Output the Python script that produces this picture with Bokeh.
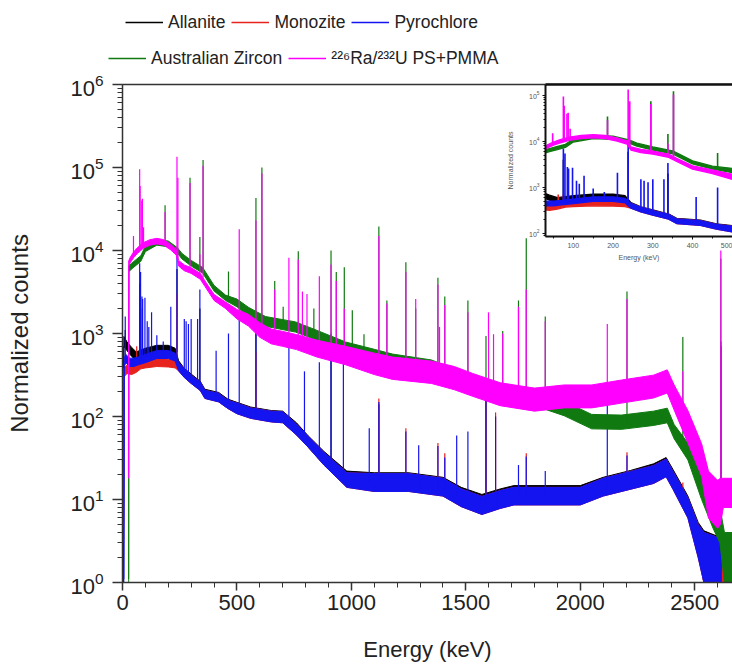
from bokeh.plotting import figure
from bokeh.models import (ColumnDataSource, Legend, LegendItem, LinearAxis, FixedTicker,
                          SingleIntervalTicker, LogTicker)
from bokeh.embed import file_html
from bokeh.resources import INLINE

# ---------------- data ----------------
# continuum bands: energy (keV), lower edge, upper edge of the noisy trace
alla_E  = [4, 6, 20, 40, 60, 100, 150, 200, 230, 245, 270, 300, 340, 360, 420, 460, 500, 560, 650, 700, 760, 810, 880, 980, 1100, 1250, 1400, 1480, 1570, 1650, 1710, 1850, 2000, 2100, 2220, 2320, 2375, 2405, 2470, 2515, 2540, 2600, 2618]
alla_lo = [1, 700, 620, 530, 470, 540, 585, 585, 540, 375, 305, 260, 210, 170, 155, 130, 111, 97, 88, 86, 62, 44, 27, 15, 13, 13, 11.5, 8.6, 7, 8.2, 9, 9, 9, 11.3, 13.7, 16.4, 19.5, 14, 6.5, 2.2, 1, 1, 1]
alla_hi = [1.1, 920, 790, 680, 600, 665, 720, 720, 665, 470, 380, 325, 265, 213, 195, 162, 148, 130, 118, 116, 84, 59, 38, 22, 21, 21, 18.5, 14, 11.5, 13.4, 14.7, 14.7, 14.7, 18.5, 22.4, 26.9, 32, 23, 11, 5.3, 4.2, 3.6, 3.6]

mona_E  = [5, 6, 20, 40, 60, 80, 100, 150, 200, 230, 245, 270, 300, 340, 360, 420, 460, 500, 560, 650, 700, 760, 810, 880, 980, 1100, 1250, 1400, 1480, 1570, 1650, 1710, 1850, 2000, 2100, 2220, 2320, 2375, 2405, 2470, 2515, 2540, 2600, 2625, 2640]
mona_lo = [3, 300, 330, 320, 340, 375, 385, 400, 395, 385, 355, 295, 250, 205, 165, 150, 125, 108, 95, 86, 84, 60, 43, 26, 14, 12.5, 12.5, 11, 8.2, 6.6, 7.8, 8.6, 8.6, 8.6, 11, 13.3, 15.6, 18.8, 13.3, 6, 2, 1, 1, 1, 1]
mona_hi = [5, 385, 415, 405, 425, 470, 480, 505, 490, 480, 450, 370, 315, 260, 207, 190, 157, 145, 127, 116, 114, 81, 58, 37, 21, 20.5, 20.5, 18, 13.4, 10.9, 12.8, 14, 14, 14, 18, 21.8, 25.6, 30.7, 21.8, 10.5, 5, 4, 3.5, 4, 3]

pyro_E  = [6, 8, 15, 30, 50, 70, 100, 150, 200, 230, 245, 270, 300, 340, 360, 420, 460, 500, 560, 650, 700, 760, 810, 880, 980, 1100, 1250, 1400, 1480, 1570, 1650, 1710, 1850, 2000, 2100, 2220, 2320, 2375, 2405, 2470, 2515, 2540, 2600, 2618]
pyro_lo = [1, 400, 445, 400, 400, 420, 445, 500, 500, 465, 355, 295, 250, 205, 165, 150, 125, 108, 95, 86, 84, 60, 43, 26, 14, 12.5, 12.5, 11, 8.2, 6.6, 7.8, 8.6, 8.6, 8.6, 11, 13.3, 15.6, 18.8, 13.3, 6, 2, 1, 1, 1]
pyro_hi = [1.1, 510, 560, 505, 505, 525, 560, 625, 625, 580, 450, 370, 315, 260, 207, 190, 157, 145, 127, 116, 114, 81, 58, 37, 21, 20.5, 20.5, 18, 13.4, 10.9, 12.8, 14, 14, 14, 18, 21.8, 25.6, 30.7, 21.8, 10.5, 5, 4, 3.5, 3.5]

zirc_E  = [27, 28, 40, 60, 80, 100, 150, 200, 240, 260, 300, 350, 400, 450, 500, 550, 625, 756, 850, 975, 1100, 1180, 1350, 1500, 1650, 1800, 1930, 2050, 2180, 2320, 2380, 2410, 2470, 2530, 2580, 2610, 2630, 2665]
zirc_lo = [1, 5550, 6000, 6650, 7400, 9700, 11600, 11100, 9250, 7900, 6500, 5350, 3250, 2500, 2100, 1570, 1220, 1040, 830, 600, 490, 425, 365, 240, 165, 135, 102, 71, 70, 78, 84, 54, 30, 10, 4.5, 3, 1, 1]
zirc_hi = [1.1, 6500, 7000, 7800, 8650, 11300, 13500, 13000, 10800, 9200, 7600, 6250, 3800, 2900, 2600, 2070, 1600, 1380, 1090, 790, 645, 565, 480, 325, 245, 200, 152, 106, 104, 116, 126, 80, 48, 19, 11, 8, 4, 4]

raum_E  = [26, 27, 35, 50, 65, 90, 120, 150, 180, 210, 235, 245, 270, 300, 340, 360, 400, 450, 500, 550, 600, 650, 700, 760, 850, 975, 1100, 1180, 1350, 1450, 1530, 1650, 1800, 1930, 2050, 2180, 2320, 2380, 2410, 2470, 2530, 2560, 2600, 2612, 2625, 2665]
raum_lo = [18, 6500, 7200, 8300, 9200, 10600, 11600, 12000, 11600, 10200, 8800, 6500, 5700, 5300, 4500, 3700, 2500, 2000, 1500, 1230, 900, 750, 700, 640, 520, 420, 320, 280, 250, 210, 175, 135, 116, 127, 127, 145, 167, 192, 120, 48, 19, 6, 4.5, 5, 8, 8]
raum_hi = [22, 7500, 8400, 9700, 10800, 12400, 13500, 14000, 13500, 11900, 10300, 7600, 6700, 6200, 5300, 4300, 2950, 2400, 1950, 1700, 1350, 1130, 1060, 970, 830, 700, 580, 520, 465, 400, 330, 255, 220, 240, 240, 275, 315, 365, 240, 118, 47, 22, 17, 18, 18, 18]

# photopeaks: energy (keV), continuum under the peak, peak top
alla_pE = [12, 75, 87, 238, 338, 583, 911, 1120, 1588, 2614]
alla_pB = [700, 560, 580, 600, 235, 112, 27, 16.5, 9, 1]
alla_pT = [1100, 4000, 2000, 6000, 2000, 1000, 700, 140, 170, 700]

mona_pE = [62, 75, 238, 583, 1120, 1238, 1378, 1408, 1588, 1630, 1764, 2204, 2448]
mona_pB = [380, 400, 430, 108, 16, 16, 14, 13, 8.8, 9.5, 11, 16.5, 8]
mona_pT = [700, 700, 3000, 600, 165, 72, 48, 36, 195, 112, 36, 37, 16]

pyro_pE = [12, 75, 79, 85, 88, 98, 108, 115, 127, 150, 178, 211, 238, 270, 278, 288, 300, 328, 338, 409, 463, 510, 583, 727, 795, 860, 911, 965, 1078, 1120, 1238, 1294, 1378, 1408, 1460, 1509, 1588, 1630, 1730, 1764, 1847, 2118, 2204, 2614]
pyro_pB = [500, 470, 480, 490, 490, 500, 510, 520, 530, 560, 560, 550, 500, 330, 320, 300, 280, 245, 235, 172, 140, 122, 108, 99, 55, 36, 26, 19, 16, 16, 16, 15, 14, 13, 11, 10, 8.8, 9.5, 11, 11, 11, 14, 16.5, 1]
pyro_pT = [1600, 7000, 5500, 2800, 2600, 2700, 1400, 1200, 1800, 950, 800, 2100, 9500, 1500, 1400, 1300, 1500, 1500, 3400, 620, 1000, 1800, 1500, 900, 350, 450, 1000, 600, 72, 150, 66, 45, 44, 32, 59, 66, 180, 100, 26, 33, 22, 150, 34, 800]

zirc_pE = [186, 295, 338, 352, 463, 583, 609, 665, 702, 768, 836, 911, 934, 969, 1004, 1055, 1120, 1155, 1238, 1281, 1378, 1408, 1509, 1588, 1661, 1730, 1764, 1847, 2204, 2448, 2614]
zirc_pB = [12200, 7000, 6000, 5700, 2600, 1550, 1450, 1350, 1270, 1180, 990, 820, 780, 700, 660, 600, 545, 510, 460, 445, 400, 385, 275, 235, 198, 180, 175, 155, 85, 55, 5]
zirc_pT = [35000, 75000, 14500, 123000, 5600, 43000, 100000, 4300, 2100, 9800, 2000, 10000, 5500, 6300, 1900, 980, 19500, 2500, 7200, 2000, 4700, 2800, 2500, 930, 1070, 2500, 14000, 1600, 3200, 910, 8000]

raum_pE = [48, 75, 77, 84, 87, 92, 186, 238, 242, 295, 338, 352, 510, 583, 609, 665, 727, 768, 786, 806, 860, 911, 934, 969, 1120, 1155, 1238, 1281, 1378, 1385, 1408, 1509, 1599, 1621, 1661, 1730, 1764, 1847, 2118, 2204, 2448, 2614]
raum_pB = [9000, 10500, 10500, 11000, 11000, 11500, 12500, 9500, 8000, 5800, 5000, 4700, 1650, 1250, 1100, 900, 860, 800, 780, 740, 650, 600, 580, 550, 420, 400, 370, 360, 330, 325, 320, 255, 210, 200, 190, 175, 170, 165, 185, 200, 110, 10]
raum_pT = [15000, 95000, 60000, 40000, 42000, 19000, 29000, 135000, 75000, 65000, 9000, 105000, 18000, 23000, 85000, 3400, 8200, 7800, 3200, 3000, 4900, 6800, 4300, 2000, 15000, 2300, 5500, 2600, 3900, 1200, 2200, 1800, 1800, 980, 1000, 2100, 3400, 1400, 1300, 2600, 350, 10000]

labels = ["Allanite", "Monozite", "Pyrochlore", "Australian Zircon", "\u00b2\u00b2\u2076Ra/\u00b2\u00b3\u00b2U PS+PMMA"]
colors = ["#000000", "#e8231e", "#1414f0", "#107a10", "#ff00ff"]

bands = [(alla_E, alla_lo, alla_hi), (mona_E, mona_lo, mona_hi), (pyro_E, pyro_lo, pyro_hi),
         (zirc_E, zirc_lo, zirc_hi), (raum_E, raum_lo, raum_hi)]
peaks = [(alla_pE, alla_pB, alla_pT), (mona_pE, mona_pB, mona_pT), (pyro_pE, pyro_pB, pyro_pT),
         (zirc_pE, zirc_pB, zirc_pT), (raum_pE, raum_pB, raum_pT)]

band_src = [ColumnDataSource(dict(E=e, lo=l, hi=h)) for e, l, h in bands]
peak_src = [ColumnDataSource(dict(E=e, base=b, top=t)) for e, b, t in peaks]

FONT = "Liberation Sans"
TXT = "#222222"


def draw(fig, lw_edge, lw_peak):
    for bs, ps, c in zip(band_src, peak_src, colors):
        fig.varea(x="E", y1="lo", y2="hi", source=bs, fill_color=c)
        fig.line(x="E", y="hi", source=bs, line_color=c, line_width=lw_edge)
        fig.line(x="E", y="lo", source=bs, line_color=c, line_width=lw_edge)
        fig.segment(x0="E", y0="base", x1="E", y1="top", source=ps, line_color=c, line_width=lw_peak)


def border_axis(color, width, tick_out):
    return LinearAxis(ticker=FixedTicker(ticks=[]), major_tick_out=tick_out, major_tick_in=0,
                      minor_tick_out=0, minor_tick_in=0, major_label_standoff=0,
                      major_tick_line_color=None, minor_tick_line_color=None,
                      axis_line_color=color, axis_line_width=width)


# ---------------- main figure ----------------
p = figure(width=732, height=666, x_range=(0, 2665), y_range=(1, 1e6), y_axis_type="log",
           output_backend="svg", toolbar_location=None,
           min_border_left=122, min_border_right=0, min_border_top=84, min_border_bottom=84,
           background_fill_color="white", border_fill_color="white")
p.outline_line_color = None
p.grid.visible = False
draw(p, 1.0, 1.2)

xb = p.below[0]
yl = p.left[0]
for ax in (xb, yl):
    ax.axis_line_color = "#333333"
    ax.axis_line_width = 1.5
    ax.major_tick_line_color = "#333333"
    ax.minor_tick_line_color = "#333333"
    ax.major_tick_line_width = 1.5
    ax.major_tick_in = 0
    ax.minor_tick_in = 0
    ax.major_label_text_font = FONT
    ax.major_label_text_color = TXT
    ax.major_label_text_font_size = "22px"
    ax.axis_label_text_font = FONT
    ax.axis_label_text_font_style = "normal"
    ax.axis_label_text_color = TXT

xb.ticker = SingleIntervalTicker(interval=500, num_minor_ticks=5)
xb.major_tick_out = 8
xb.minor_tick_out = 5
xb.major_label_standoff = 4
xb.axis_label = "Energy (keV)"
xb.axis_label_text_font_size = "22px"
xb.axis_label_standoff = 24

yl.ticker = LogTicker(num_minor_ticks=10)
yl.major_tick_out = 10
yl.minor_tick_out = 5
yl.major_label_standoff = 9
yl.axis_label = "Normalized counts"
yl.axis_label_text_font_size = "24px"
yl.axis_label_standoff = 34

p.add_layout(border_axis("#333333", 1.5, 10), "above")

# ---------------- legend (separate transparent canvas above the main one) ----------------
lf = figure(width=732, height=80, x_range=(0, 1), y_range=(0, 1), output_backend="svg",
            toolbar_location=None, min_border=0, x_axis_location=None, y_axis_location=None,
            background_fill_alpha=0, border_fill_alpha=0,
            styles={"position": "absolute", "left": "0px", "top": "0px"})
lf.outline_line_color = None
lf.grid.visible = False
lrends = [lf.line(x="E", y="hi", source=bs, line_color=c, line_width=1.5)
          for bs, c in zip(band_src, colors)]
leg_common = dict(border_line_color=None, background_fill_alpha=0, padding=5, margin=0,
                  spacing=6, label_standoff=5, glyph_width=38, glyph_height=24, label_height=24,
                  label_text_font=FONT, label_text_font_size="17.5px",
                  label_text_color=TXT, orientation="horizontal")
leg1 = Legend(items=[LegendItem(label=labels[i], renderers=[lrends[i]]) for i in range(3)],
              location=(125, 46), **leg_common)
leg2 = Legend(items=[LegendItem(label=labels[i], renderers=[lrends[i]]) for i in range(3, 5)],
              location=(108, 10), **leg_common)
lf.add_layout(leg1)
lf.add_layout(leg2)

# ---------------- inset ----------------
ins = figure(width=230, height=190, x_range=(30, 500.5), y_range=(86, 1.73e5), y_axis_type="log",
             output_backend="svg", toolbar_location=None,
             min_border_left=43, min_border_right=0, min_border_top=8, min_border_bottom=30,
             background_fill_color="white", border_fill_color=None,
             styles={"position": "absolute", "left": "502px", "top": "76px"})
ins.outline_line_color = None
ins.grid.visible = False
draw(ins, 1.3, 1.6)
ixb = ins.below[0]
iyl = ins.left[0]
for ax in (ixb, iyl):
    ax.axis_line_color = "#111111"
    ax.axis_line_width = 2
    ax.major_tick_line_color = "#111111"
    ax.minor_tick_line_color = "#111111"
    ax.major_tick_out = 3
    ax.major_tick_in = 0
    ax.minor_tick_out = 2
    ax.minor_tick_in = 0
    ax.major_label_text_font = FONT
    ax.major_label_text_color = "#555555"
    ax.major_label_text_font_size = "7px"
    ax.major_label_standoff = 3
    ax.axis_label_text_font = FONT
    ax.axis_label_text_font_style = "normal"
    ax.axis_label_text_color = "#555555"
    ax.axis_label_text_font_size = "7px"
    ax.axis_label_standoff = 3
ixb.ticker = SingleIntervalTicker(interval=100, num_minor_ticks=2)
ixb.axis_label = "Energy (keV)"
iyl.axis_label = "Normalized counts"
iyl.axis_label_standoff = 12
ins.add_layout(border_axis("#111111", 2.5, 0), "above")

open("out.html", "w").write(file_html([p, lf, ins], INLINE))
